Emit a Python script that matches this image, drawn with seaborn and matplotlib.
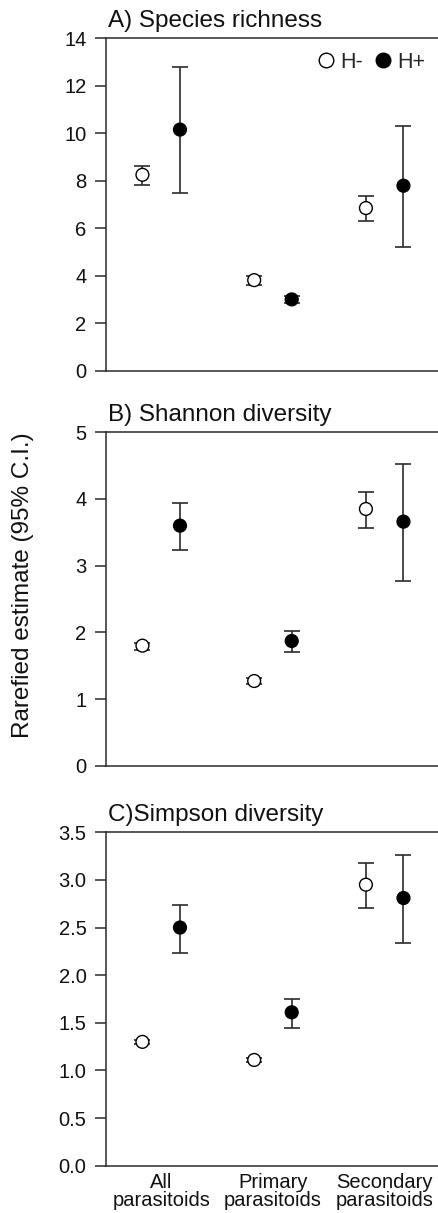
import numpy as np
import pandas as pd
import matplotlib
matplotlib.use("Agg")
import matplotlib.pyplot as plt
from matplotlib.lines import Line2D
import seaborn as sns

sns.set_style("white")
plt.rcParams['font.family'] = ['Liberation Sans', 'DejaVu Sans']

# ---- data ----
categories = ["All\nparasitoids", "Primary\nparasitoids", "Secondary\nparasitoids"]
groups = ["H-", "H+"]

# Panel A: Species richness
rich_hm = [8.25, 3.82, 6.85]
rich_hm_lo = [7.83, 3.62, 6.30]
rich_hm_hi = [8.60, 3.98, 7.34]
rich_hp = [10.15, 3.01, 7.79]
rich_hp_lo = [7.47, 2.87, 5.20]
rich_hp_hi = [12.77, 3.14, 10.32]

# Panel B: Shannon diversity
shan_hm = [1.80, 1.27, 3.85]
shan_hm_lo = [1.73, 1.23, 3.56]
shan_hm_hi = [1.84, 1.31, 4.10]
shan_hp = [3.60, 1.87, 3.66]
shan_hp_lo = [3.23, 1.70, 2.77]
shan_hp_hi = [3.94, 2.02, 4.52]

# Panel C: Simpson diversity
simp_hm = [1.30, 1.11, 2.95]
simp_hm_lo = [1.28, 1.09, 2.71]
simp_hm_hi = [1.32, 1.13, 3.18]
simp_hp = [2.50, 1.61, 2.81]
simp_hp_lo = [2.23, 1.45, 2.34]
simp_hp_hi = [2.74, 1.75, 3.26]

titles = ["A) Species richness", "B) Shannon diversity", "C)Simpson diversity"]
yticks_list = [np.arange(0, 15, 2), np.arange(0, 6, 1), np.arange(0, 3.51, 0.5)]
ylims = [(0, 14), (0, 5), (0, 3.5)]

panels = [
    (rich_hm, rich_hm_lo, rich_hm_hi, rich_hp, rich_hp_lo, rich_hp_hi),
    (shan_hm, shan_hm_lo, shan_hm_hi, shan_hp, shan_hp_lo, shan_hp_hi),
    (simp_hm, simp_hm_lo, simp_hm_hi, simp_hp, simp_hp_lo, simp_hp_hi),
]

W, H = 439, 1213
fig = plt.figure(figsize=(W / 100, H / 100), dpi=100)

ax_px = [(38, 371), (432.3, 765.7), (832.3, 1165.7)]
left_px, right_px = 106, 439
offset = 0.168
line_col = "#2b2b2b"

for i, (vals, ax_y) in enumerate(zip(panels, ax_px)):
    top, bot = ax_y
    ax = fig.add_axes([left_px / W, 1 - bot / H, (right_px - left_px) / W, (bot - top) / H])
    hm, hm_lo, hm_hi, hp, hp_lo, hp_hi = vals
    rows = []
    for k in range(3):
        rows.append(dict(x=k - offset, y=hm[k], lo=hm_lo[k], hi=hm_hi[k], group="H-"))
        rows.append(dict(x=k + offset, y=hp[k], lo=hp_lo[k], hi=hp_hi[k], group="H+"))
    df = pd.DataFrame(rows)
    ax.errorbar(df["x"], df["y"], yerr=[df["y"] - df["lo"], df["hi"] - df["y"]],
                fmt="none", ecolor=line_col, elinewidth=1.2, capsize=6, capthick=1.2, zorder=2)
    sns.scatterplot(data=df, x="x", y="y", hue="group", palette={"H-": "white", "H+": "black"},
                    edgecolor="black", linewidth=1.0, s=85, legend=False, zorder=3, ax=ax)
    ax.set_xlim(-0.494, 2.486)
    ax.set_ylim(*ylims[i])
    ax.set_yticks(yticks_list[i])
    if i == 2:
        ax.set_yticklabels([f"{t:.1f}" for t in yticks_list[i]])
        ax.set_xticks([0, 1, 2])
        ax.set_xticklabels(categories, fontsize=14.5, linespacing=0.95)
    else:
        ax.set_xticks([])
    ax.set_xlabel("")
    ax.set_ylabel("")
    for s in ["left", "top", "bottom"]:
        ax.spines[s].set_visible(True)
        ax.spines[s].set_color(line_col)
        ax.spines[s].set_linewidth(1.1)
    ax.spines["right"].set_visible(False)
    ax.tick_params(axis="y", which="both", left=True, length=8, width=1.1, color=line_col,
                   labelsize=14.5, pad=6, labelcolor="#111111", direction="out")
    ax.tick_params(axis="x", length=0, pad=5, labelcolor="#111111")
    ax.set_title(titles[i], loc="left", fontsize=17.5, pad=8, color="#111111", x=0.005)
    ax.set_facecolor("white")
    if i == 0:
        handles = [Line2D([], [], marker="o", ls="none", mfc="white", mec="black", mew=1.0, ms=10.5),
                   Line2D([], [], marker="o", ls="none", mfc="black", mec="black", mew=1.0, ms=10.5)]
        ax.legend(handles, groups, loc="upper right", bbox_to_anchor=(1.0, 1.0), ncol=2, frameon=False,
                  fontsize=15.5, handletextpad=0.15, columnspacing=0.45, handlelength=1.0,
                  borderaxespad=0.25)

fig.text(23 / W, 1 - 585 / H, "Rarefied estimate (95% C.I.)", rotation=90, ha="center", va="center",
         fontsize=17.5, color="#111111")

fig.savefig("out.png", dpi=100, facecolor="white")
